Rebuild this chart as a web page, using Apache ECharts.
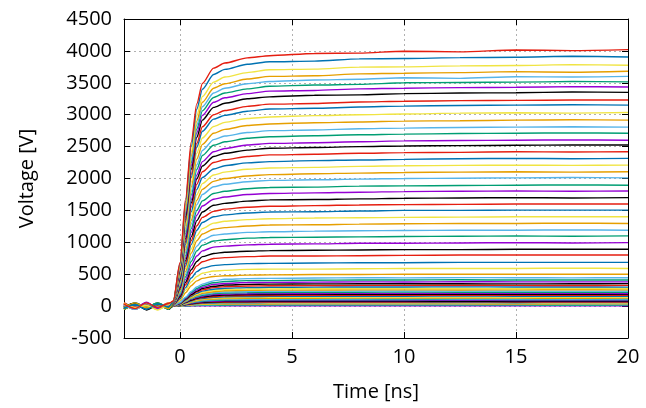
<!DOCTYPE html>
<html><head><meta charset="utf-8">
<script src="https://cdn.jsdelivr.net/npm/echarts@6/dist/echarts.min.js"></script>
<style>html,body{margin:0;padding:0;background:#fff}#c{width:646px;height:408px}</style>
</head><body><div id="c"></div>
<script>
// time axis (ns), shared by all traces
const time = [-2.5,-2,-1.5,-1,-0.5,-0.3,0,0.25,0.5,0.75,1,1.5,2,3,4,6,8,10,12.5,15,17.5,20];
// traces, bottom (s01) to top (s63), voltage in V
const s01 = [30,-20,10,-30,20, 0,1,2,3,3,4,4,5,5,5,5,5,5,7,5,3,5];
const s02 = [-50,30,-40,20,-30, 0,2,5,8,10,12,13,14,15,15,15,15,15,17,15,13,15];
const s03 = [20,-40,30,-10,40, 0,3,8,13,17,20,22,24,24,25,25,25,25,27,25,23,25];
const s04 = [-30,10,-20,40,-20, 0,4,11,18,23,27,31,33,34,34,35,35,37,35,33,35,35];
const s05 = [40,-20,50,-50,30, 0,5,14,23,30,35,40,42,44,44,45,45,45,47,45,43,45];
const s06 = [-10,40,-30,20,-40, 0,7,18,29,37,43,49,52,53,54,55,55,57,55,53,55,55];
const s07 = [30,-50,40,-40,20, 0,8,21,34,44,51,58,61,63,64,65,65,65,67,65,63,65];
const s08 = [-40,20,-10,30,-30, 0,10,24,39,50,59,67,71,73,74,74,75,77,75,73,75,75];
const s09 = [20,-40,20,-30,40, 0,10,28,46,59,69,78,83,85,86,87,88,88,90,88,86,88];
const s10 = [-20,30,-50,50,-20, 0,10,32,52,67,78,89,94,97,98,99,100,100,102,100,98,100];
const s11 = [50,-10,40,-20,10, 0,15,35,58,75,87,100,105,109,110,111,112,114,112,110,112,112];
const s12 = [-30,50,-20,10,-40, 5,15,40,65,85,98,112,118,121,123,124,125,125,127,125,123,125];
const s13 = [10,-30,30,-40,20, 5,15,45,75,95,110,125,132,136,138,139,140,142,140,140,138,140];
const s14 = [-50,20,-40,40,-30, 5,20,50,80,105,120,138,146,150,152,154,155,155,157,155,153,155];
const s15 = [30,-40,10,-30,50, 5,20,55,90,115,133,150,160,165,167,168,170,170,172,170,168,170];
const s16 = [-20,30,-30,20,-20, 5,20,60,95,125,145,165,174,180,182,184,185,187,185,183,185,185];
const s17 = [40,-20,50,-50,30, 5,25,65,105,135,155,180,188,194,196,198,200,200,202,200,200,198];
const s18 = [-40,10,-20,30,-50, 5,25,70,115,145,170,195,205,211,214,216,218,220,218,216,218,218];
const s19 = [20,-50,40,-10,10, 5,30,75,125,160,185,210,222,229,232,234,236,236,238,236,234,236];
const s20 = [-10,20,-40,50,-40, 5,30,80,130,170,200,225,240,247,250,252,255,255,253,255,257,255];
const s21 = [50,-30,20,-30,40, 5,35,90,145,185,215,245,260,267,270,272,275,277,275,273,275,275];
const s22 = [-30,40,-50,20,-10, 5,35,95,155,200,235,265,280,290,295,297,300,300,302,300,300,298];
const s23 = [30,-10,40,-40,20, 5,40,105,170,220,255,290,305,315,320,322,325,325,327,325,323,325];
const s24 = [-50,30,-10,40,-30, 5,40,110,180,235,275,310,330,340,345,348,350,352,350,348,350,352];
const s25 = [10,-40,30,-20,50, 5,45,120,200,255,295,340,355,370,372,376,380,378,382,380,380,380];
const s26 = [-20,50,-40,30,-20, 10,50,130,215,275,320,365,385,400,400,405,410,410,412,408,410,410];
const s27 = [40,-20,20,-50,30, 10,55,140,230,300,345,395,420,430,435,440,445,443,447,445,443,445];
const s28 = [-30,10,-30,20,-40, 10,85,210,320,395,435,465,475,485,490,495,495,500,500,500,500,500];
const s29 = [30,-30,50,-30,10, 10,100,250,380,465,515,550,560,575,580,580,585,590,590,590,595,590];
const s30 = [-10,40,-20,50,-30, 15,115,290,440,540,595,635,650,665,670,675,680,680,685,685,685,685];
const s31 = [20,-50,30,-10,20, 15,135,335,510,630,695,745,760,775,785,785,790,795,800,800,800,800];
const s32 = [-40,20,-40,40,-50, 20,150,375,570,700,775,825,845,860,870,875,880,885,885,890,890,890];
const s33 = [50,-30,10,-20,30, 20,170,415,635,785,865,925,940,960,970,975,985,985,990,995,990,995];
const s34 = [-20,30,-50,30,-10, 20,185,460,700,865,955,1020,1040,1065,1075,1080,1085,1090,1095,1100,1095,1100];
const s35 = [30,-10,20,-40,40, 25,200,500,760,940,1035,1110,1130,1155,1165,1175,1180,1185,1190,1190,1195,1190];
const s36 = [-40,50,-30,10,-40, 25,220,545,830,1025,1130,1205,1230,1255,1270,1275,1285,1290,1295,1295,1300,1295];
const s37 = [10,-20,40,-30,20, 30,240,590,895,1105,1215,1300,1330,1355,1370,1380,1385,1390,1395,1400,1400,1400];
const s38 = [-30,30,-10,40,-30, 30,255,630,965,1190,1310,1400,1430,1460,1475,1480,1490,1500,1500,1505,1505,1505];
const s39 = [40,-40,20,-50,50, 30,270,670,1025,1260,1390,1485,1520,1550,1565,1575,1585,1590,1595,1600,1600,1600];
const s40 = [-10,40,-20,20,-20, 35,290,715,1085,1340,1475,1580,1610,1645,1665,1670,1680,1690,1695,1700,1695,1700];
const s41 = [20,-30,50,-40,30, 35,305,755,1155,1425,1570,1675,1710,1750,1765,1775,1785,1795,1800,1805,1800,1805];
const s42 = [-50,10,-30,30,-50, 40,320,795,1215,1500,1650,1765,1800,1840,1860,1865,1880,1885,1890,1895,1900,1895];
const s43 = [30,-50,30,-10,10, 40,340,845,1285,1590,1750,1870,1910,1950,1970,1980,1990,2000,2005,2010,2015,2010];
const s44 = [-20,20,-40,50,-30, 40,360,885,1345,1660,1830,1955,2000,2040,2060,2075,2085,2095,2100,2105,2100,2105];
const s45 = [50,-40,10,-20,20, 45,375,930,1415,1745,1920,2055,2100,2145,2165,2175,2190,2200,2205,2210,2205,2210];
const s46 = [-30,50,-20,40,-40, 45,395,970,1480,1830,2015,2150,2200,2245,2265,2280,2290,2300,2310,2315,2310,2315];
const s47 = [10,-20,40,-30,40, 50,410,1015,1550,1910,2105,2250,2295,2345,2370,2380,2395,2405,2410,2420,2415,2420];
const s48 = [-40,30,-50,20,-20, 50,430,1060,1615,1995,2195,2345,2395,2445,2475,2485,2500,2510,2515,2520,2525,2525];
const s49 = [40,-10,20,-40,30, 50,440,1090,1665,2055,2265,2420,2470,2525,2550,2560,2575,2590,2595,2600,2605,2600];
const s50 = [-20,40,-30,10,-30, 55,460,1140,1735,2140,2360,2520,2575,2630,2655,2670,2685,2695,2705,2710,2715,2710];
const s51 = [20,-30,50,-50,20, 55,475,1180,1795,2215,2440,2610,2665,2720,2750,2760,2780,2790,2800,2805,2810,2805];
const s52 = [-50,20,-10,30,-40, 60,495,1225,1865,2305,2535,2710,2770,2830,2855,2875,2885,2900,2905,2915,2920,2915];
const s53 = [30,-40,20,-20,50, 60,515,1270,1940,2395,2635,2815,2880,2940,2965,2985,3000,3010,3025,3030,3025,3035];
const s54 = [-30,10,-40,40,-10, 60,535,1325,2015,2490,2740,2930,2990,3055,3090,3100,3120,3135,3145,3150,3155,3150];
const s55 = [50,-20,30,-30,40, 65,550,1355,2065,2550,2810,3000,3065,3130,3165,3175,3200,3210,3220,3225,3230,3230];
const s56 = [-10,40,-60,20,-20, 65,570,1405,2145,2645,2915,3115,3180,3250,3280,3305,3310,3330,3340,3345,3355,3350];
const s57 = [20,-30,60,-40,10, 65,585,1445,2200,2715,2990,3195,3265,3330,3370,3380,3405,3415,3425,3430,3440,3435];
const s58 = [-40,30,-20,50,-30, 70,600,1475,2250,2775,3060,3270,3340,3405,3445,3465,3475,3500,3505,3510,3520,3515];
const s59 = [10,-50,40,-10,30, 70,610,1510,2300,2840,3125,3340,3415,3485,3520,3545,3555,3580,3570,3595,3590,3600];
const s60 = [-20,50,-30,20,-40, 75,625,1540,2350,2900,3195,3415,3485,3560,3600,3610,3640,3650,3660,3675,3665,3680];
const s61 = [40,-20,10,-60,20, 70,640,1590,2415,2985,3285,3510,3590,3660,3705,3715,3745,3750,3765,3770,3785,3775];
const s62 = [-30,20,-50,30,-10, 75,665,1640,2500,3085,3400,3630,3710,3790,3830,3840,3875,3880,3895,3900,3915,3905];
const s63 = [30,-40,50,-20,40, 80,680,1680,2570,3170,3490,3730,3810,3890,3925,3960,3965,3995,3985,4015,4005,4020];
const traces = [s01,s02,s03,s04,s05,s06,s07,s08,s09,s10,s11,s12,s13,s14,s15,s16,s17,s18,s19,s20,
  s21,s22,s23,s24,s25,s26,s27,s28,s29,s30,s31,s32,s33,s34,s35,s36,s37,s38,s39,s40,
  s41,s42,s43,s44,s45,s46,s47,s48,s49,s50,s51,s52,s53,s54,s55,s56,s57,s58,s59,s60,s61,s62,s63];
const xTicks = [0,5,10,15,20];
const yTicks = [-500,0,500,1000,1500,2000,2500,3000,3500,4000,4500];
const palette = ['#9400d3','#009e73','#56b4e9','#e69f00','#f0e442','#0072b2','#e51e10','#000000'];

const FONT = '"Open Sans", "Noto Sans", sans-serif';
const FS = 20;
const chart = echarts.init(document.getElementById('c'), null, {renderer:'canvas'});
const gridLine = {show:true, lineStyle:{color:'#b0b0b0', type:[2,3], width:1}};
const axisLineStyle = {show:true, onZero:false, lineStyle:{color:'#000', width:1}};
const series = traces.map((arr, i) => ({
  type:'line', name:'s'+(i+1), showSymbol:false, symbol:'none',
  smooth:0.25, smoothMonotone:'x',
  data: arr.map((v, k) => [time[k], v]),
  lineStyle:{width:1.4, color: palette[i % 8]}, color: palette[i % 8],
  emphasis:{disabled:true}, animation:false, z: 2
}));
chart.setOption({
  animation:false,
  grid:{left:124, right:18, top:19, bottom:70, containLabel:false},
  xAxis:[
    {type:'value', min:-2.5, max:20, interval:2.5, position:'bottom',
      name:'Time [ns]', nameLocation:'middle', nameGap:44,
      nameTextStyle:{fontFamily:FONT, fontSize:FS, color:'#000'},
      axisLine:axisLineStyle,
      axisTick:{show:true, inside:true, length:6, customValues:xTicks, lineStyle:{color:'#000'}},
      axisLabel:{show:true, customValues:xTicks, margin:9, fontFamily:FONT, fontSize:FS, color:'#000',
        formatter:v => String(v)},
      splitLine:gridLine},
    {type:'value', min:-2.5, max:20, interval:2.5, position:'top',
      axisLine:axisLineStyle,
      axisTick:{show:true, inside:true, length:6, customValues:xTicks, lineStyle:{color:'#000'}},
      axisLabel:{show:false}, splitLine:{show:false}}
  ],
  yAxis:[
    {type:'value', min:-500, max:4500, interval:500, position:'left',
      name:'Voltage [V]', nameLocation:'middle', nameGap:87, nameRotate:90,
      nameTextStyle:{fontFamily:FONT, fontSize:FS, color:'#000'},
      axisLine:axisLineStyle,
      axisTick:{show:true, inside:true, length:6, lineStyle:{color:'#000'}},
      axisLabel:{margin:12, fontFamily:FONT, fontSize:FS, color:'#000', formatter:v => String(v)},
      splitLine:gridLine},
    {type:'value', min:-500, max:4500, interval:500, position:'right',
      axisLine:axisLineStyle,
      axisTick:{show:true, inside:true, length:6, lineStyle:{color:'#000'}},
      axisLabel:{show:false}, splitLine:{show:false}}
  ],
  series: series
});
</script></body></html>
